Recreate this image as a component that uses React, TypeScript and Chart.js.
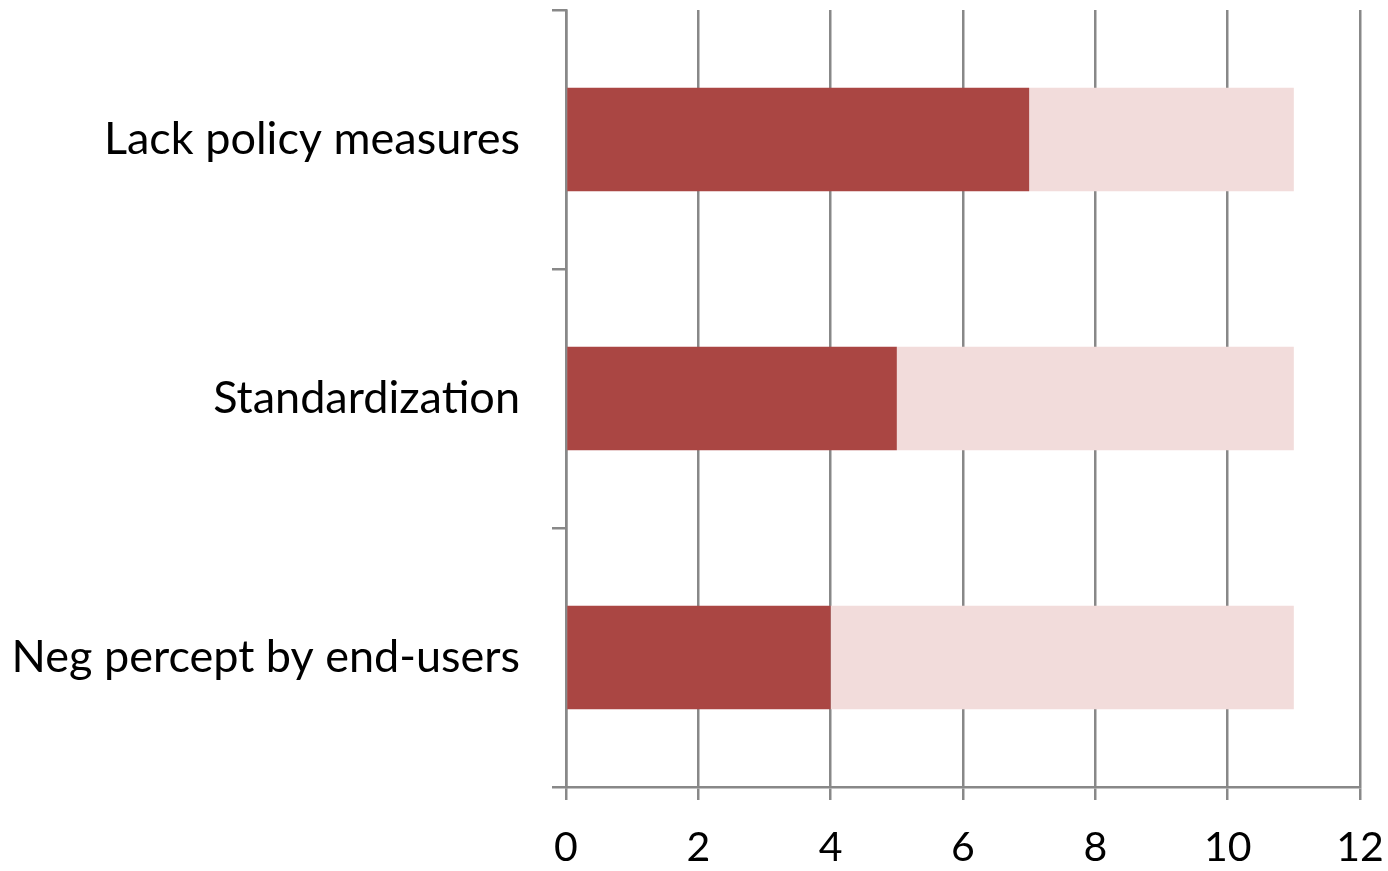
import React, { useEffect, useRef } from "react";
import { Chart, registerables } from "chart.js";

Chart.register(...registerables);

const categories = ["Lack policy measures", "Standardization", "Neg percept by end-users"];
const primaryValues = [7, 5, 4];
const remainderValues = [4, 6, 7];
const xTicks = [0, 2, 4, 6, 8, 10, 12];

const FONT = "Lato, 'Open Sans', sans-serif";
const GRID = "#888888";

export default function App() {
  const ref = useRef<HTMLCanvasElement | null>(null);
  useEffect(() => {
    if (!ref.current) return;
    const chart = new Chart(ref.current, {
      type: "bar",
      data: {
        labels: categories,
        datasets: [
          { label: "A", data: primaryValues, backgroundColor: "#AA4643", barPercentage: 0.4, categoryPercentage: 1 },
          { label: "B", data: remainderValues, backgroundColor: "#F2DCDB", barPercentage: 0.4, categoryPercentage: 1 },
        ],
      },
      options: {
        indexAxis: "y",
        animation: false,
        responsive: false,
        maintainAspectRatio: false,
        layout: { padding: { top: 10, right: 28, left: 0, bottom: 0 } },
        plugins: { legend: { display: false }, tooltip: { enabled: false } },
        scales: {
          x: {
            stacked: true,
            min: 0,
            max: 12,
            afterBuildTicks: (s: any) => { s.ticks = xTicks.map((v) => ({ value: v })); },
            afterFit: (s: any) => { s.height = 84; s.paddingLeft = 0; s.paddingRight = 0; },
            grid: { color: GRID, lineWidth: 2.5, tickLength: 13, drawTicks: true },
            border: { color: GRID, width: 2.5 },
            ticks: { color: "#000", font: { family: FONT, size: 41 }, padding: 23, maxRotation: 0 },
          },
          y: {
            stacked: true,
            afterFit: (s: any) => { s.width = 566; s.paddingTop = 0; s.paddingBottom = 0; },
            grid: { color: GRID, lineWidth: 2.5, tickLength: 14, drawOnChartArea: false, offset: true },
            border: { color: GRID, width: 2.5 },
            ticks: { color: "#000", font: { family: FONT, size: 45 }, padding: 32 },
          },
        },
      },
    });
    return () => chart.destroy();
  }, []);
  return (
    <div style={{ position: "absolute", left: 0, top: 0, width: 1388, height: 871, background: "#fff" }}>
      <canvas ref={ref} width={1388} height={871} style={{ width: 1388, height: 871 }} />
    </div>
  );
}
